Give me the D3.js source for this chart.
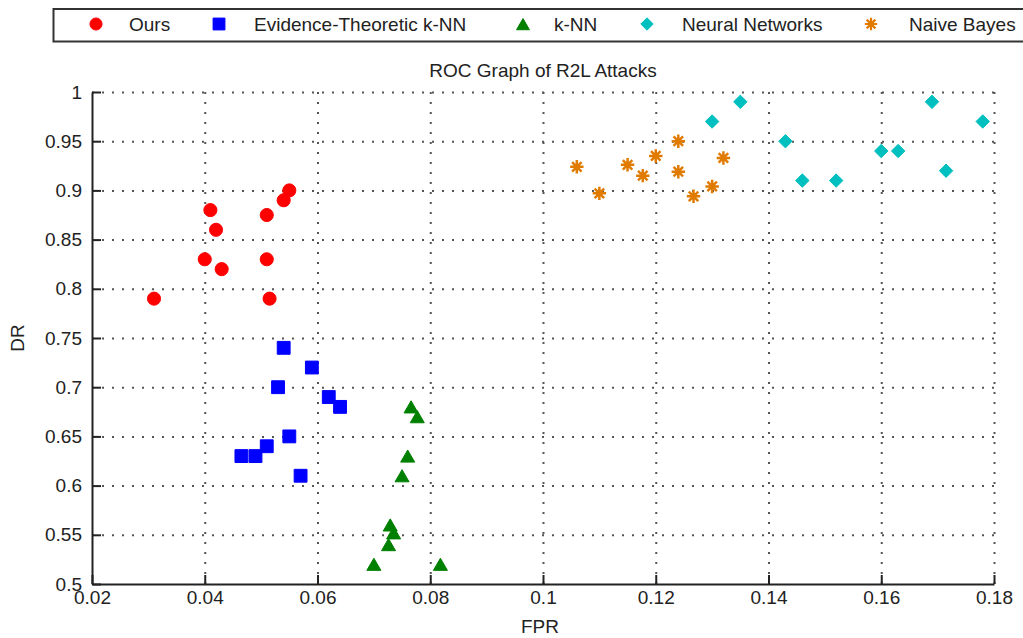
<!DOCTYPE html>
<html>
<head>
<meta charset="utf-8">
<script src="https://cdn.jsdelivr.net/npm/d3@7"></script>
<style>
  html, body { margin: 0; padding: 0; background: #fff; }
  svg { display: block; font-family: "Liberation Sans", Arial, sans-serif; }
</style>
</head>
<body>
<div id="chart"></div>
<script>
// veri
const seriesNames = ["Ours", "Evidence-Theoretic k-NN", "k-NN", "Neural Networks", "Naive Bayes"];
const seriesColors = ["#ff0000", "#0000ff", "#008000", "#00bfbf", "#e07b00"];

const oursFPR = [0.031, 0.040, 0.041, 0.042, 0.043, 0.051, 0.051, 0.0515, 0.054, 0.055];
const oursDR  = [0.79, 0.83, 0.88, 0.86, 0.82, 0.875, 0.83, 0.79, 0.89, 0.90];

const etknnFPR = [0.054, 0.059, 0.053, 0.062, 0.064, 0.055, 0.051, 0.0465, 0.049, 0.057];
const etknnDR  = [0.74, 0.72, 0.70, 0.69, 0.68, 0.65, 0.64, 0.63, 0.63, 0.61];

const knnFPR = [0.0766, 0.0777, 0.076, 0.075, 0.0729, 0.0735, 0.0726, 0.070, 0.0818];
const knnDR  = [0.68, 0.67, 0.63, 0.61, 0.56, 0.552, 0.54, 0.52, 0.52];

const nnFPR = [0.135, 0.130, 0.143, 0.146, 0.152, 0.160, 0.163, 0.1715, 0.169, 0.178];
const nnDR  = [0.99, 0.97, 0.95, 0.91, 0.91, 0.94, 0.94, 0.92, 0.99, 0.97];

const nbFPR = [0.106, 0.110, 0.115, 0.1177, 0.120, 0.124, 0.124, 0.1267, 0.130, 0.132];
const nbDR  = [0.924, 0.897, 0.926, 0.915, 0.935, 0.95, 0.919, 0.894, 0.904, 0.933];

const xTicks = [0.02, 0.04, 0.06, 0.08, 0.1, 0.12, 0.14, 0.16, 0.18];
const yTicks = [0.5, 0.55, 0.6, 0.65, 0.7, 0.75, 0.8, 0.85, 0.9, 0.95, 1];

// Matlab tarzi isaretler
const diamond = {
  draw(ctx, size) {
    const r = Math.sqrt(size / 2);
    ctx.moveTo(0, -r); ctx.lineTo(r, 0); ctx.lineTo(0, r); ctx.lineTo(-r, 0); ctx.closePath();
  }
};
const asterisk8 = {
  draw(ctx, size) {
    const r = Math.sqrt(size) / 2;
    const d = r * Math.SQRT1_2;
    ctx.moveTo(0, -r); ctx.lineTo(0, r);
    ctx.moveTo(-r, 0); ctx.lineTo(r, 0);
    ctx.moveTo(-d, -d); ctx.lineTo(d, d);
    ctx.moveTo(-d, d); ctx.lineTo(d, -d);
  }
};
const symbolTypes = [d3.symbolCircle, d3.symbolSquare, d3.symbolTriangle, diamond, asterisk8];
const symbolSizes = [135, 165, 85, 90, 180];
const symbolDy = [0, 0, 2, 0, 0];

const series = [
  [oursFPR, oursDR], [etknnFPR, etknnDR], [knnFPR, knnDR], [nnFPR, nnDR], [nbFPR, nbDR]
].map((s, i) => ({
  name: seriesNames[i],
  color: seriesColors[i],
  points: s[0].map((v, j) => ({ fpr: v, dr: s[1][j] }))
}));

const width = 1023, height = 638;
const margin = { top: 92, right: 29, bottom: 54, left: 92 };
const w = width - margin.left - margin.right;
const h = height - margin.top - margin.bottom;

const svg = d3.select("#chart").append("svg")
  .attr("width", width)
  .attr("height", height);

const g = svg.append("g").attr("transform", `translate(${margin.left},${margin.top})`);

const x = d3.scaleLinear().domain([0.02, 0.18]).range([0, w]);
const y = d3.scaleLinear().domain([0.5, 1]).range([h, 0]);

// Izgara (noktali)
const gridX = g.append("g")
  .attr("transform", `translate(0,${h})`)
  .call(d3.axisBottom(x).tickValues(xTicks.slice(1)).tickSize(-h).tickFormat(""));
const gridY = g.append("g")
  .call(d3.axisLeft(y).tickValues(yTicks.slice(1)).tickSize(-w).tickFormat(""));
[gridX, gridY].forEach(gr => {
  gr.select(".domain").remove();
  gr.selectAll("line")
    .attr("stroke", "#555")
    .attr("stroke-width", 2)
    .attr("stroke-dasharray", "2,8");
});

// Eksenler
const fmt = d => String(+d.toFixed(2));
const xAxis = g.append("g")
  .attr("transform", `translate(0,${h})`)
  .call(d3.axisBottom(x).tickValues(xTicks).tickSizeInner(-9).tickSizeOuter(0).tickPadding(7).tickFormat(fmt));
const yAxis = g.append("g")
  .call(d3.axisLeft(y).tickValues(yTicks).tickSizeInner(-9).tickSizeOuter(0).tickPadding(10).tickFormat(fmt));
[xAxis, yAxis].forEach(ax => {
  ax.select(".domain").attr("stroke", "#222").attr("stroke-width", 2);
  ax.selectAll(".tick line").attr("stroke", "#222").attr("stroke-width", 2);
  ax.selectAll("text")
    .style("font-family", "'Liberation Sans', Arial, sans-serif")
    .style("font-size", "19px")
    .style("fill", "#222");
});

// Noktalar
series.forEach((s, i) => {
  const sym = d3.symbol().type(symbolTypes[i]).size(symbolSizes[i]);
  const isStar = i === 4;
  g.append("g").selectAll("path")
    .data(s.points)
    .enter()
    .append("path")
    .attr("d", sym)
    .attr("transform", d => `translate(${x(d.fpr)},${y(d.dr) + symbolDy[i]})`)
    .attr("fill", isStar ? "none" : s.color)
    .attr("stroke", s.color)
    .attr("stroke-width", isStar ? 2.5 : 1);
});

// Baslik ve eksen etiketleri
svg.append("text")
  .attr("x", margin.left + w / 2)
  .attr("y", 77)
  .attr("text-anchor", "middle")
  .style("font-size", "19px")
  .style("fill", "#222")
  .text("ROC Graph of R2L Attacks");

svg.append("text")
  .attr("x", margin.left + w / 2 - 3)
  .attr("y", 633)
  .attr("text-anchor", "middle")
  .style("font-size", "19px")
  .style("fill", "#222")
  .text("FPR");

svg.append("text")
  .attr("transform", `translate(24,${margin.top + h / 2}) rotate(-90)`)
  .attr("text-anchor", "middle")
  .style("font-size", "19px")
  .style("fill", "#222")
  .text("DR");

// Lejant
svg.append("rect")
  .attr("x", 53.5)
  .attr("y", 9)
  .attr("width", 1000)
  .attr("height", 32.5)
  .attr("fill", "#fff")
  .attr("stroke", "#333")
  .attr("stroke-width", 2);

const legendMarkX = [96, 219, 523, 647, 871];
const legendTextX = [129, 254, 554, 682, 909];
series.forEach((s, i) => {
  const isStar = i === 4;
  svg.append("path")
    .attr("d", d3.symbol().type(symbolTypes[i]).size(symbolSizes[i] * 0.85)())
    .attr("transform", `translate(${legendMarkX[i]},${24 + symbolDy[i]})`)
    .attr("fill", isStar ? "none" : s.color)
    .attr("stroke", s.color)
    .attr("stroke-width", isStar ? 2.2 : 1);
  svg.append("text")
    .attr("x", legendTextX[i])
    .attr("y", 31)
    .style("font-size", "19px")
    .style("fill", "#222")
    .text(s.name);
});
</script>
</body>
</html>
